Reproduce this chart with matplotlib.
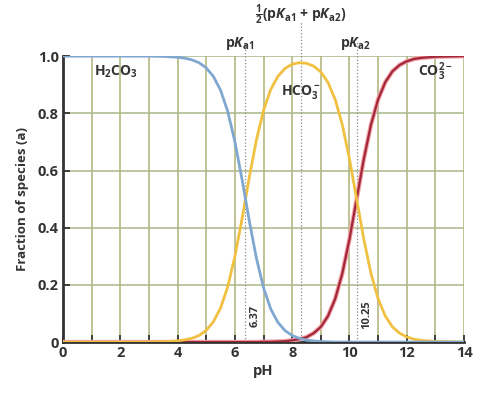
import matplotlib
matplotlib.use('Agg')
import matplotlib.pyplot as plt

# values
ph = [0, 1, 2, 3, 3.5, 4, 4.25, 4.5, 4.75, 5, 5.25, 5.5, 5.75, 6, 6.25, 6.5,
      6.75, 7, 7.25, 7.5, 7.75, 8, 8.25, 8.5, 8.75, 9, 9.25, 9.5, 9.75, 10,
      10.25, 10.5, 10.75, 11, 11.25, 11.5, 11.75, 12, 12.25, 12.5, 13, 14]
h2co3 = [1.0, 1.0, 1.0, 1.0, 0.999, 0.996, 0.993, 0.987, 0.977, 0.959, 0.929,
         0.881, 0.807, 0.701, 0.569, 0.426, 0.294, 0.19, 0.116, 0.069, 0.04,
         0.023, 0.013, 0.007, 0.004, 0.002, 0.001, 0.0, 0.0, 0.0,
         0.0, 0.0, 0.0, 0.0, 0.0, 0.0, 0.0, 0.0, 0.0, 0.0, 0.0, 0.0]
hco3 = [0.0, 0.0, 0.0, 0.0, 0.001, 0.004, 0.008, 0.013, 0.023, 0.041, 0.071,
        0.119, 0.193, 0.299, 0.431, 0.574, 0.706, 0.81, 0.883, 0.929, 0.957,
        0.972, 0.977, 0.975, 0.965, 0.945, 0.908, 0.849, 0.76, 0.64,
        0.5, 0.36, 0.24, 0.151, 0.091, 0.053, 0.031, 0.018, 0.01, 0.006,
        0.002, 0.0]
co3 = [0.0, 0.0, 0.0, 0.0, 0.0, 0.0, 0.0, 0.0, 0.0, 0.0, 0.0,
       0.0, 0.0, 0.0, 0.0, 0.0, 0.0, 0.001, 0.001, 0.002, 0.003,
       0.006, 0.01, 0.017, 0.031, 0.053, 0.091, 0.151, 0.24, 0.36,
       0.5, 0.64, 0.76, 0.849, 0.909, 0.947, 0.969, 0.982, 0.99, 0.994,
       0.998, 1.0]
pka1, pka2 = 6.37, 10.25
pk_mid = (pka1 + pka2) / 2

plt.rcParams['font.family'] = ['Open Sans', 'DejaVu Sans']
plt.rcParams['font.weight'] = 'bold'
plt.rcParams['mathtext.fontset'] = 'custom'
plt.rcParams['mathtext.rm'] = 'Open Sans:bold'
plt.rcParams['mathtext.bf'] = 'Open Sans:bold'
plt.rcParams['mathtext.it'] = 'Open Sans:bold:italic'
txt = '#333333'

fig = plt.figure(figsize=(4.88, 4.01), dpi=100)
ax = fig.add_axes([0.129, 0.147, 0.822, 0.713])

for x in range(1, 15):
    ax.axvline(x, color='#b0b078', lw=1.1, zorder=1)
for y in [0.2, 0.4, 0.6, 0.8, 1.0]:
    ax.axhline(y, color='#a8b888', lw=1.1, zorder=1)

for x, top in [(pka1, 1.05), (pk_mid, 1.12), (pka2, 1.05)]:
    ax.plot([x, x], [0, top], ls=':', color='#888888', lw=0.9,
            clip_on=False, zorder=2)

ax.plot(ph, co3, color='#f4a0a8', lw=3.2, zorder=3)
ax.plot(ph, co3, color='#a02838', lw=1.6, zorder=4)
ax.plot(ph, hco3, color='#f0c040', lw=2.0, zorder=5)
ax.plot(ph, h2co3, color='#7fa7d0', lw=2.0, zorder=6)

ax.set_xlim(0, 14)
ax.set_ylim(0, 1.0)
ax.set_xticks(range(0, 15, 2))
ax.set_xticks(range(1, 15, 2), minor=True)
ax.set_yticks([0, 0.2, 0.4, 0.6, 0.8, 1.0])
ax.set_yticklabels(['0', '0.2', '0.4', '0.6', '0.8', '1.0'])
ax.tick_params(which='both', direction='in', length=5, width=1.3,
               color='#333333', labelsize=10.5, labelcolor=txt, pad=3)
for s in ['top', 'right']:
    ax.spines[s].set_visible(False)
for s in ['left', 'bottom']:
    ax.spines[s].set_color('#333333')
    ax.spines[s].set_linewidth(2)

ax.set_xlabel('pH', fontsize=10.5, color=txt, fontweight='bold', labelpad=3)
ax.set_ylabel('Fraction of species (a)', fontsize=9.5, color=txt,
              fontweight='bold', labelpad=6)

ax.text(1.85, 0.945, r'H$_2$CO$_3$', ha='center', va='center',
        fontsize=10, color=txt, fontweight='bold')
ax.text(8.3, 0.875, r'HCO$_3^-$', ha='center',
        va='center', fontsize=10, color=txt, fontweight='bold')
ax.text(13.0, 0.945, r'CO$_3^{2-}$', ha='center',
        va='center', fontsize=10, color=txt, fontweight='bold')
ax.text(6.15, 1.045, r'p$K_{\mathrm{a1}}$', ha='center',
        va='center', fontsize=10, color=txt, clip_on=False)
ax.text(10.2, 1.045, r'p$K_{\mathrm{a2}}$', ha='center',
        va='center', fontsize=10, color=txt, clip_on=False)
ax.text(pk_mid, 1.145,
        r'$\frac{1}{2}$(p$K_{\mathrm{a1}}$ + p$K_{\mathrm{a2}}$)',
        ha='center', va='center', fontsize=10, color=txt, clip_on=False)
ax.text(pka1 + 0.35, 0.09, '6.37', rotation=90, ha='center', va='center',
        fontsize=8, color=txt)
ax.text(pka2 + 0.37, 0.095, '10.25', rotation=90, ha='center', va='center',
        fontsize=8, color=txt)

fig.savefig('out.png', dpi=100)
